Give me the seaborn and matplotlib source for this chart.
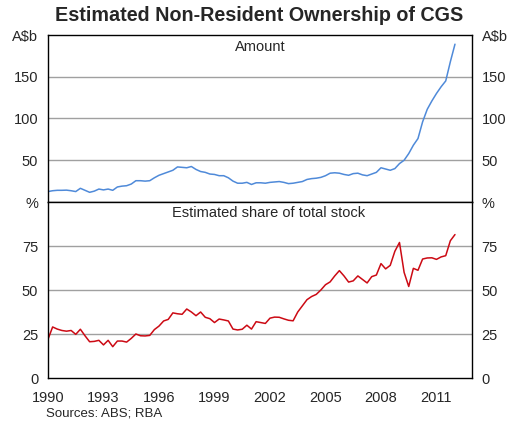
import numpy as np
import pandas as pd
import seaborn as sns
import matplotlib.pyplot as plt

# quarterly observations, Mar 1990 .. Mar 2012
quarters = pd.period_range("1990Q1", "2012Q1", freq="Q")

amount = [12.5, 13.5, 14, 14, 14.2, 13.5, 12.5, 16.4, 14, 11.6, 13, 15.5,
          14.5, 15.5, 14, 18, 19, 19.5, 21.5, 25.5, 25.5, 25, 25.5, 29,
          32, 34, 36, 38, 42, 41.5, 41, 42.5, 39, 36.5, 35.5, 33.5,
          33, 31.5, 31.5, 29, 25, 22.5, 22.5, 23.5, 21, 23, 23, 22.5,
          23.5, 24, 24.5, 23.5, 22, 22.5, 23.5, 24.5, 27, 28, 28.5, 29.5,
          31.5, 34.5, 35, 34.5, 33, 32, 34, 34.5, 32.5, 31.5, 33.5, 35.5,
          41, 39.5, 38, 40, 46, 50, 58, 68, 76, 96, 111, 121,
          130, 138, 145, 168, 189]

share = [22, 29, 27.8, 27, 26.6, 27, 24.8, 27.7, 24, 20.6, 20.8, 21.4,
         18.8, 21.4, 17.8, 21, 21, 20.4, 22.5, 25, 24, 23.9, 24.2, 27.5,
         29.5, 32.4, 33.3, 37, 36.5, 36.2, 39.2, 37.5, 35.4, 37.5, 34.5, 33.7,
         31.5, 33.5, 33, 32.4, 27.8, 27.3, 27.7, 30, 27.8, 32, 31.5, 31,
         34, 34.6, 34.5, 33.6, 32.8, 32.5, 37.5, 41, 44.5, 46.3, 47.5, 50,
         53, 54.6, 58, 61, 58, 54.5, 55.2, 58, 56, 54, 57.6, 58.5,
         65, 62, 64, 72, 77, 60, 52, 62.3, 61.2, 67.6, 68.2, 68.3,
         67.4, 68.8, 69.5, 78, 81.5]

years = np.array([q.year + (q.quarter - 1) / 4 for q in quarters])
df = pd.DataFrame({"year": years, "amount": amount, "share": share})

sns.set_style("white")
plt.rcParams["font.family"] = ["Liberation Sans", "DejaVu Sans"]
plt.rcParams["font.size"] = 10.5

fig = plt.figure(figsize=(5.09, 4.23), dpi=100)
ax1 = fig.add_axes([48 / 509, 1 - 202 / 423, 424 / 509, 167 / 423])
ax2 = fig.add_axes([48 / 509, 1 - 378 / 423, 424 / 509, 176 / 423])

sns.lineplot(data=df, x="year", y="amount", ax=ax1, color="#4f8ad9", linewidth=1.1)
sns.lineplot(data=df, x="year", y="share", ax=ax2, color="#cc0a14", linewidth=1.1)

grid_c = "#a0a0a0"
for ax in (ax1, ax2):
    ax.set_xlim(1990, 2012.92)
    ax.set_xlabel("")
    ax.set_ylabel("")
    for s in ax.spines.values():
        s.set_color("black")
        s.set_linewidth(1.0)
    ax.tick_params(axis="y", length=0, labelright=True, labelleft=True)
    ax.tick_params(axis="y", which="both", pad=7)

ax1.set_ylim(0, 200)
ax1.set_yticks([50, 100, 150, 200])
ax1.set_yticklabels(["50", "100", "150", "A$b"])
for v in [50, 100, 150]:
    ax1.axhline(v, color=grid_c, lw=1.0, zorder=0)
ax1.set_xticks([])
ax1.text(0.5, 0.93, "Amount", transform=ax1.transAxes, ha="center", va="center")

ax2.set_ylim(0, 100)
ax2.set_yticks([0, 25, 50, 75, 100])
ax2.set_yticklabels(["0", "25", "50", "75", "%"])
for v in [25, 50, 75]:
    ax2.axhline(v, color=grid_c, lw=1.0, zorder=0)
ax2.set_xticks(range(1990, 2013))
ax2.set_xticklabels([str(y) if (y - 1990) % 3 == 0 else "" for y in range(1990, 2013)])
ax2.tick_params(axis="x", direction="in", length=4, width=0.8, pad=9, color="black")
ax2.text(0.52, 0.935, "Estimated share of total stock", transform=ax2.transAxes,
         ha="center", va="center")

fig.text(0.51, 0.964, "Estimated Non-Resident Ownership of CGS", ha="center",
         va="center", fontsize=14.2, fontweight="bold")
fig.text(46 / 509, 1 - 413 / 423, "Sources: ABS; RBA", ha="left", va="center", fontsize=9.5)

fig.savefig("out.png", dpi=100)
